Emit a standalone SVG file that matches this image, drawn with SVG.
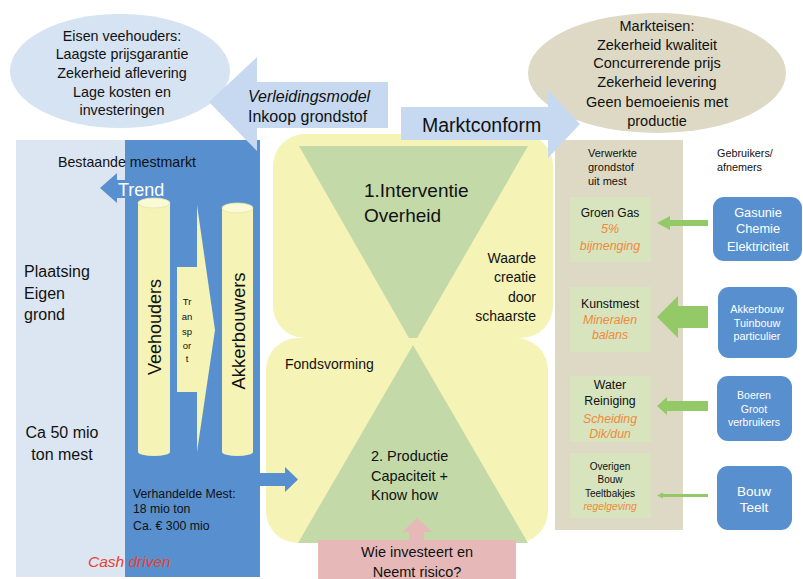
<svg xmlns="http://www.w3.org/2000/svg" width="803" height="579" viewBox="0 0 803 579">
<style>
text{font-family:"Liberation Sans",Arial,sans-serif;fill:#111}
.c{text-anchor:middle}
.r{text-anchor:end}
.it{font-style:italic}
.or{fill:#ef8a3c;font-style:italic}
.w{fill:#fff}
.lb{fill:#dce6f2}
.db{fill:#5890cf}
.la{fill:#c6d9f1}
.ye{fill:#f5f3b5}
.gt{fill:#c4d9a8}
.gb{fill:#d7e4bd}
.gr{fill:#ddd9c4}
.ga{fill:#93c967}
.cyl{fill:#f5f3b5}
.cap{fill:#fafad6;stroke:#e6e4a8;stroke-width:0.8}
</style>
<g id="panel-left">
<rect class="lb" x="16" y="140" width="110" height="437"/>
<text x="24" y="277" font-size="16">Plaatsing</text>
<text x="24" y="299" font-size="16">Eigen</text>
<text x="24" y="320" font-size="16">grond</text>
<text class="c" x="62" y="438" font-size="16">Ca 50 mio</text>
<text class="c" x="62" y="460" font-size="16">ton mest</text>
</g>
<g id="panel-market">
<rect class="db" x="125" y="140" width="135" height="437"/>
<polygon class="db" points="100,188 117,173 117,180 126,180 126,198 117,198 117,203"/>
<text x="58" y="167" font-size="14.2">Bestaande mestmarkt</text>
<text class="w" x="118" y="196" font-size="18">Trend</text>
<text x="133" y="498" font-size="12.3">Verhandelde Mest:</text>
<text x="133" y="513" font-size="12.3">18 mio ton</text>
<text x="133" y="530" font-size="12.3">Ca. € 300 mio</text>
<text class="it" x="88" y="567" font-size="15.5" style="fill:#e8412f">Cash driven</text>
</g>
<g id="veehouders">
<rect class="cyl" x="138" y="203" width="32" height="249"/>
<ellipse class="cyl" cx="154" cy="452" rx="16" ry="4"/>
<ellipse class="cap" cx="154" cy="203" rx="16" ry="5"/>
<text class="c" transform="translate(161,327) rotate(-90)" font-size="18">Veehouders</text>
</g>
<g id="transport">
<polygon class="cyl" points="177,267 197,267 197,205 215,330 197,452 197,392 177,392"/>
<text class="c" x="187" y="305" font-size="9.5">Tr</text>
<text class="c" x="187" y="320" font-size="9.5">an</text>
<text class="c" x="187" y="335" font-size="9.5">sp</text>
<text class="c" x="187" y="349" font-size="9.5">or</text>
<text class="c" x="187" y="362" font-size="9.5">t</text>
</g>
<g id="akkerbouwers">
<rect class="cyl" x="222" y="208" width="31" height="244"/>
<ellipse class="cyl" cx="237.5" cy="452" rx="15.5" ry="4"/>
<ellipse class="cap" cx="237.5" cy="208" rx="15.5" ry="5"/>
<text class="c" transform="translate(245,331) rotate(-90)" font-size="18.5">Akkerbouwers</text>
</g>
<g id="verwerkt-panel">
<rect class="gr" x="555" y="140" width="128" height="390"/>
<text x="588" y="157" font-size="11">Verwerkte</text>
<text x="588" y="171" font-size="11">grondstof</text>
<text x="588" y="185" font-size="11">uit mest</text>
<text x="717" y="157" font-size="10.8">Gebruikers/</text>
<text x="717" y="171" font-size="10.8">afnemers</text>
</g>
<g id="interventie">
<rect class="ye" x="273" y="134" width="280" height="204" rx="32"/>
<polygon class="gt" points="299,146 528,146 413,345"/>
<text x="364" y="197" font-size="19">1.Interventie</text>
<text x="364" y="222" font-size="19">Overheid</text>
<text class="r" x="536" y="263" font-size="14">Waarde</text>
<text class="r" x="536" y="282" font-size="14">creatie</text>
<text class="r" x="536" y="302" font-size="14">door</text>
<text class="r" x="536" y="321" font-size="14">schaarste</text>
</g>
<g id="productie">
<rect class="ye" x="266" y="338" width="282" height="205" rx="32"/>
<polygon class="gt" points="413,345 528,543 298,543"/>
<text x="285" y="369" font-size="14">Fondsvorming</text>
<text x="371" y="461" font-size="14.5">2. Productie</text>
<text x="371" y="481" font-size="14.5">Capaciteit +</text>
<text x="371" y="500" font-size="14.5">Know how</text>
</g>
<g id="eisen-veehouders">
<ellipse cx="120" cy="71" rx="110" ry="57" fill="#d6e3f2"/>
<text class="c" x="122" y="41" font-size="14.3">Eisen veehouders:</text>
<text class="c" x="122" y="59" font-size="14.3">Laagste prijsgarantie</text>
<text class="c" x="122" y="78" font-size="14.3">Zekerheid aflevering</text>
<text class="c" x="122" y="97" font-size="14.3">Lage kosten en</text>
<text class="c" x="122" y="115" font-size="14.3">investeringen</text>
</g>
<g id="markteisen">
<ellipse class="gr" cx="657" cy="73" rx="129" ry="60"/>
<text class="c" x="657" y="31" font-size="14.5">Markteisen:</text>
<text class="c" x="657" y="50" font-size="14.5">Zekerheid kwaliteit</text>
<text class="c" x="657" y="68" font-size="14.5">Concurrerende prijs</text>
<text class="c" x="657" y="87" font-size="14.5">Zekerheid levering</text>
<text class="c" x="657" y="107" font-size="14.5">Geen bemoeienis met</text>
<text class="c" x="657" y="126" font-size="14.5">productie</text>
</g>
<g id="groen-gas">
<rect class="gb" x="570" y="197" width="81" height="65"/>
<text class="c" x="610" y="217" font-size="12">Groen Gas</text>
<text class="c or" x="610" y="233" font-size="12.5">5%</text>
<text class="c or" x="610" y="250" font-size="12.5">bijmenging</text>
</g>
<g id="kunstmest">
<rect class="gb" x="570" y="287" width="81" height="65"/>
<text class="c" x="610" y="308" font-size="12.3">Kunstmest</text>
<text class="c or" x="610" y="324" font-size="12.3">Mineralen</text>
<text class="c or" x="610" y="339" font-size="12.3">balans</text>
</g>
<g id="water">
<rect class="gb" x="570" y="376" width="81" height="66"/>
<text class="c" x="610" y="389" font-size="12.3">Water</text>
<text class="c" x="610" y="405" font-size="12.3">Reiniging</text>
<text class="c or" x="610" y="423" font-size="12.3">Scheiding</text>
<text class="c or" x="610" y="438" font-size="12.3">Dik/dun</text>
</g>
<g id="overigen">
<rect class="gb" x="570" y="453" width="81" height="65"/>
<text class="c" x="610" y="470" font-size="10">Overigen</text>
<text class="c" x="610" y="483" font-size="10">Bouw</text>
<text class="c" x="610" y="497" font-size="10">Teeltbakjes</text>
<text class="c or" x="610" y="510" font-size="10.3">regelgeving</text>
</g>
<g id="gasunie">
<rect class="db" x="713" y="197" width="89" height="64" rx="11"/>
<text class="c w" x="758" y="217" font-size="12.8">Gasunie</text>
<text class="c w" x="758" y="233" font-size="12.8">Chemie</text>
<text class="c w" x="758" y="251" font-size="12.8">Elektriciteit</text>
</g>
<g id="akkerbouw">
<rect class="db" x="718" y="287" width="79" height="71" rx="11"/>
<text class="c w" x="757" y="313" font-size="10.8">Akkerbouw</text>
<text class="c w" x="757" y="327" font-size="10.8">Tuinbouw</text>
<text class="c w" x="757" y="340" font-size="10.8">particulier</text>
</g>
<g id="boeren">
<rect class="db" x="717" y="376" width="75" height="65" rx="11"/>
<text class="c w" x="754" y="399" font-size="10.5">Boeren</text>
<text class="c w" x="754" y="413" font-size="10.5">Groot</text>
<text class="c w" x="754" y="426" font-size="10.5">verbruikers</text>
</g>
<g id="bouw-teelt">
<rect class="db" x="717" y="466" width="75" height="64" rx="11"/>
<text class="c w" x="754" y="496" font-size="13.5">Bouw</text>
<text class="c w" x="754" y="512" font-size="13.5">Teelt</text>
</g>
<g id="risico">
<rect x="318" y="540" width="198" height="39" fill="#e6b9b8"/>
<text class="c" x="417" y="557" font-size="14.5">Wie investeert en</text>
<text class="c" x="417" y="577" font-size="14.5">Neemt risico?</text>
</g>
<g id="connectors">
<polygon class="la" points="209,102 257,57 257,82 388,82 388,128 257,128 257,151"/>
<polygon class="la" points="401,107 548,107 548,90 580,124 548,158 548,140 401,140"/>
<polygon class="db" points="260,473 285,473 285,467 298,479.5 285,492 285,486 260,486"/>
<polygon fill="#e6b9b8" points="417,518 432,532 424,532 424,541 409,541 409,532 402,532"/>
<polygon class="ga" points="657,223 670,216 670,220 708,220 708,226 670,226 670,230"/>
<polygon class="ga" points="657,317 678,296 678,306 708,306 708,328 678,328 678,338"/>
<polygon class="ga" points="657,406 667,397 667,401 708,401 708,411 667,411 667,415"/>
<polygon class="ga" points="657,495.5 663,492.5 663,494 708,494 708,497 663,497 663,498.5"/>
</g>
<g id="arrow-labels">
<text class="it" x="248" y="102" font-size="16">Verleidingsmodel</text>
<text x="248" y="122" font-size="16">Inkoop grondstof</text>
<text x="422" y="132" font-size="19.5">Marktconform</text>
</g>
</svg>
